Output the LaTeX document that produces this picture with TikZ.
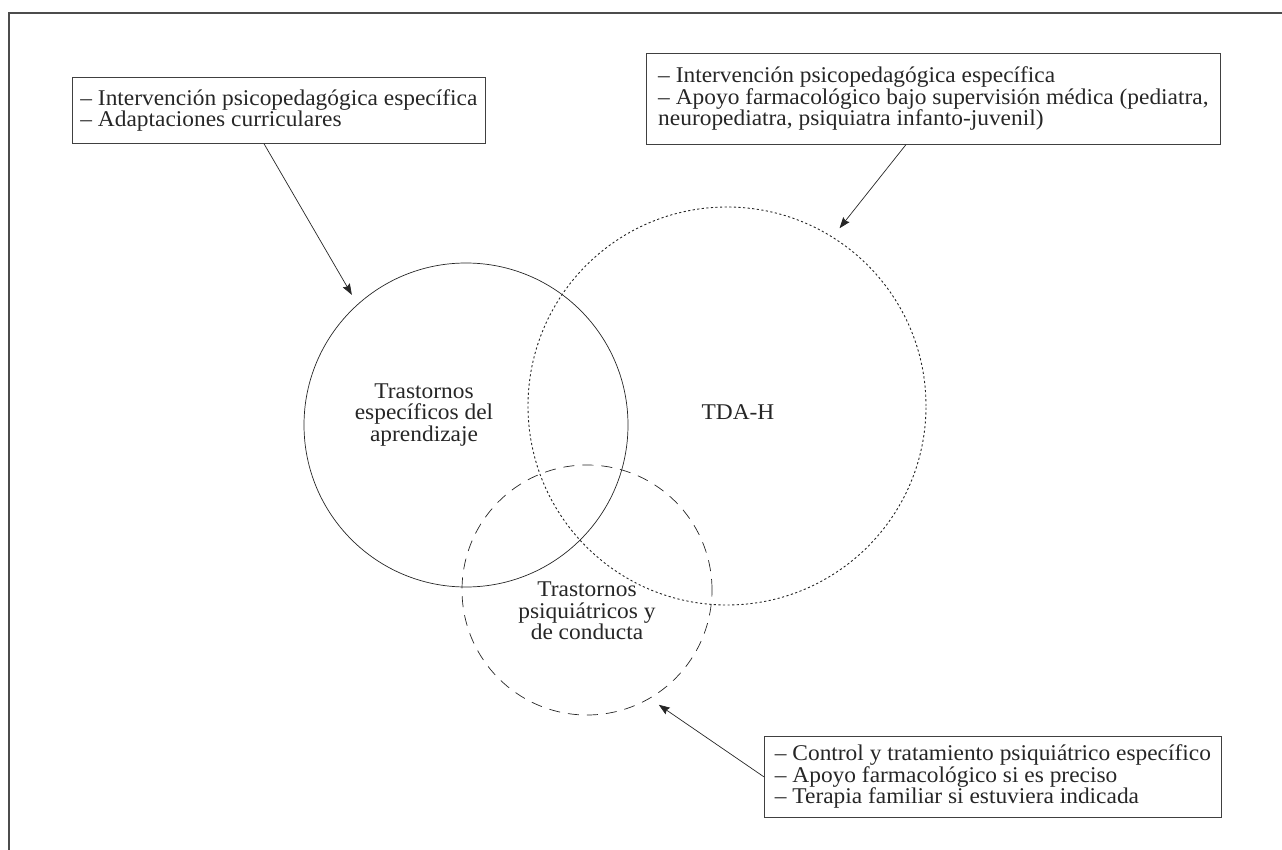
\documentclass[tikz,border=0pt]{standalone}
\usepackage{fontspec}
\setmainfont{Liberation Serif}[FakeStretch=1.04]
\usetikzlibrary{arrows.meta}

\tikzset{
  testo/.style={font=\fontsize{22.5}{21.5}\selectfont, text=black!85},
  caja/.style={testo, draw=black!75, line width=0.8pt, anchor=north west, align=left, inner xsep=8pt, inner ysep=0pt},
  circulo/.style={circle, draw=black!85, line width=0.7pt, inner sep=0pt},
  continuo/.style={solid},
  punteado/.style={dash pattern=on 2.2pt off 2.4pt, line width=0.9pt},
  discontinuo/.style={dash pattern=on 11pt off 8pt},
  flecha/.style={-{Stealth[length=11pt, width=8pt, inset=1.5pt]}, line width=0.7pt, draw=black!85, shorten >=11pt}
}

\begin{document}
\begin{tikzpicture}[x=1pt, y=-1pt]
  \useasboundingbox (0,0) rectangle (1282,850);

  % Marco
  \draw[black!70, line width=1.2pt] (9,850) -- (9,13) -- (1282,13);

  % Cajas
  \node[caja, minimum width=413pt, minimum height=66pt] (b1) at (72,77)
    {-- Intervención psicopedagógica específica\\-- Adaptaciones curriculares};
  \node[caja, minimum width=574pt, minimum height=91pt] (b2) at (646,53)
    {-- Intervención psicopedagógica específica\\-- Apoyo farmacológico bajo supervisión médica (pediatra,\\neuropediatra, psiquiatra infanto-juvenil)};
  \node[caja, minimum width=457pt, minimum height=81pt] (b3) at (764,736)
    {-- Control y tratamiento psiquiátrico específico\\-- Apoyo farmacológico si es preciso\\-- Terapia familiar si estuviera indicada};

  % Circulos
  \foreach \n/\x/\y/\d/\pat in {c1/466/425/324/continuo, c2/727/406/398/punteado, c3/587/590/250/discontinuo} {
      \node[circulo, \pat, minimum size=\d pt] (\n) at (\x,\y) {};
    }

  % Textos
  \node[testo, align=center] (t1) at (424,415) {Trastornos\\específicos del\\aprendizaje};
  \node[testo] (t2) at (738,412) {TDA-H};
  \node[testo, align=center] (t3) at (587,611) {Trastornos\\psiquiátricos y\\de conducta};

  % Flechas
  \foreach \a/\i/\b/\j in {b1/246/c1/132, b2/239/c2/58, b3/180/c3/300} {
      \draw[flecha] (\a.\i) -- (\b.\j);
    }
\end{tikzpicture}
\end{document}
